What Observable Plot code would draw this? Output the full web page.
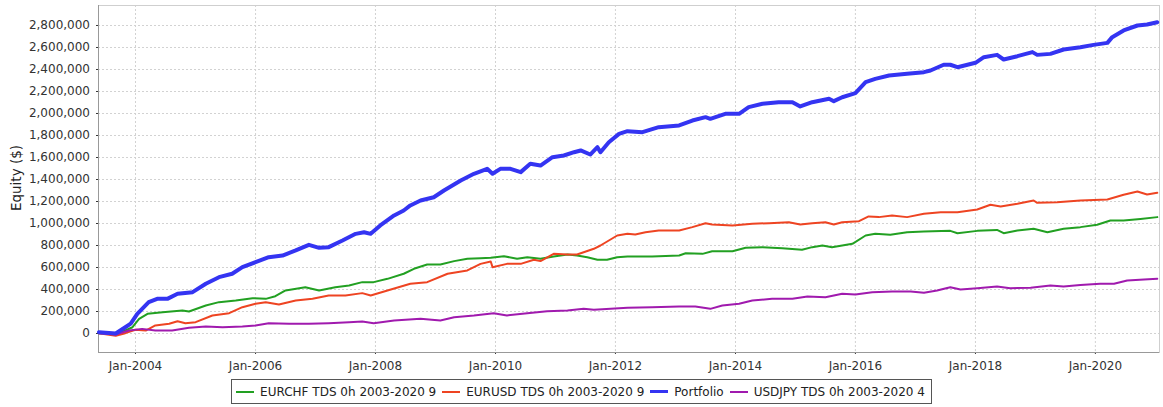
<!DOCTYPE html>
<html>
<head>
<meta charset="utf-8">
<script src="https://cdn.jsdelivr.net/npm/d3@7"></script>
<script src="https://cdn.jsdelivr.net/npm/@observablehq/plot@0.6"></script>
<style>
  html, body { margin: 0; padding: 0; background: #fff; }
  #chart { width: 1163px; }
  .legend {
    display: flex; justify-content: center; margin-top: 3px;
  }
  .legend-box {
    display: flex; align-items: center; height: 23px; padding: 0 6px 0 4px;
    border: 1px solid #555; background: #fff;
    font-family: "DejaVu Sans", sans-serif; font-size: 12px; color: #222;
  }
  .item { display: flex; align-items: center; margin-right: 6px; }
  .item:last-child { margin-right: 0; }
  .sw { width: 18px; height: 2px; margin-right: 6px; }
</style>
</head>
<body>
<div id="chart"></div>
<script>
// ---- Data (years as decimal years, values in thousands of $) ----
const seriesNames = ["EURCHF TDS 0h 2003-2020 9", "EURUSD TDS 0h 2003-2020 9", "Portfolio", "USDJPY TDS 0h 2003-2020 4"];
const seriesColors = ["#22a022", "#ee4422", "#3434f2", "#a01aae"];

const portfolioYears = [2003.39,2003.67,2003.83,2003.92,2004.03,2004.22,2004.36,2004.53,2004.70,2004.95,2005.17,2005.39,2005.61,2005.78,2006.00,2006.22,2006.45,2006.67,2006.89,2007.06,2007.22,2007.45,2007.67,2007.81,2007.92,2008.08,2008.31,2008.47,2008.58,2008.75,2008.97,2009.14,2009.42,2009.64,2009.86,2009.95,2010.08,2010.25,2010.42,2010.58,2010.75,2010.95,2011.14,2011.31,2011.42,2011.58,2011.70,2011.75,2011.89,2012.06,2012.20,2012.45,2012.72,2013.06,2013.28,2013.50,2013.58,2013.83,2014.06,2014.22,2014.45,2014.72,2014.95,2015.08,2015.28,2015.56,2015.64,2015.78,2016.00,2016.17,2016.33,2016.56,2016.86,2017.14,2017.25,2017.47,2017.58,2017.70,2018.00,2018.14,2018.36,2018.47,2018.70,2018.95,2019.03,2019.25,2019.47,2019.75,2019.97,2020.20,2020.28,2020.47,2020.70,2020.86,2021.03];
const portfolioValues = [12,0,57,90,179,285,315,315,361,376,452,512,543,603,648,694,709,755,806,779,785,845,906,921,906,982,1073,1118,1164,1209,1239,1300,1391,1452,1497,1452,1497,1497,1467,1543,1527,1603,1618,1648,1664,1627,1694,1648,1739,1815,1839,1830,1876,1891,1936,1967,1952,1997,1997,2058,2088,2103,2103,2064,2103,2134,2112,2148,2185,2285,2315,2345,2361,2376,2391,2443,2443,2421,2461,2512,2533,2491,2521,2558,2533,2542,2582,2603,2624,2642,2694,2755,2800,2809,2830];

const eurchfYears = [2003.39,2003.67,2003.83,2003.95,2004.06,2004.20,2004.45,2004.78,2004.89,2005.17,2005.39,2005.67,2005.95,2006.17,2006.33,2006.50,2006.83,2007.06,2007.33,2007.56,2007.78,2007.97,2008.20,2008.47,2008.64,2008.86,2009.08,2009.31,2009.53,2009.75,2009.92,2010.14,2010.36,2010.53,2010.75,2010.97,2011.20,2011.36,2011.53,2011.70,2011.86,2012.03,2012.20,2012.61,2013.06,2013.17,2013.45,2013.61,2013.95,2014.17,2014.45,2014.78,2015.11,2015.28,2015.45,2015.61,2015.95,2016.17,2016.33,2016.58,2016.86,2017.14,2017.58,2017.70,2018.03,2018.36,2018.47,2018.70,2018.97,2019.20,2019.47,2019.75,2020.03,2020.25,2020.47,2020.75,2021.03];
const eurchfValues = [3,3,27,57,133,179,194,209,200,255,285,300,321,315,339,391,421,391,421,436,467,467,497,543,588,627,627,658,679,685,688,703,679,694,679,700,718,709,694,670,670,694,700,700,709,730,724,748,748,779,785,776,761,785,800,785,815,891,906,897,921,927,933,912,933,942,912,936,952,921,952,967,988,1027,1027,1042,1058];

const eurusdYears = [2003.39,2003.67,2003.83,2004.00,2004.17,2004.33,2004.56,2004.70,2004.83,2005.00,2005.28,2005.56,2005.78,2006.00,2006.17,2006.39,2006.67,2006.95,2007.22,2007.50,2007.78,2007.92,2008.20,2008.58,2008.86,2009.20,2009.53,2009.75,2009.92,2009.95,2010.19,2010.42,2010.64,2010.75,2010.97,2011.20,2011.36,2011.47,2011.64,2011.75,2012.03,2012.20,2012.33,2012.50,2012.72,2013.06,2013.28,2013.50,2013.61,2013.95,2014.28,2014.56,2014.89,2015.08,2015.28,2015.50,2015.64,2015.78,2016.06,2016.22,2016.39,2016.61,2016.86,2017.14,2017.42,2017.70,2018.03,2018.25,2018.42,2018.70,2018.97,2019.03,2019.36,2019.75,2020.20,2020.47,2020.70,2020.86,2021.03];
const eurusdValues = [3,-21,3,33,27,73,88,112,94,103,164,185,239,270,285,264,300,315,345,345,367,345,391,452,467,543,573,633,655,603,633,633,670,658,724,718,718,739,770,800,891,906,900,921,936,936,967,1003,991,982,997,1003,1012,991,1003,1012,991,1012,1021,1064,1058,1073,1058,1088,1103,1103,1127,1170,1155,1179,1209,1188,1194,1209,1218,1261,1291,1264,1279];

const usdjpyYears = [2003.39,2003.67,2003.89,2004.11,2004.33,2004.61,2004.89,2005.17,2005.45,2005.78,2006.00,2006.22,2006.56,2006.89,2007.22,2007.56,2007.78,2007.97,2008.31,2008.75,2009.08,2009.31,2009.64,2009.97,2010.19,2010.53,2010.86,2011.20,2011.47,2011.64,2011.92,2012.20,2012.61,2013.06,2013.33,2013.58,2013.78,2014.06,2014.28,2014.61,2014.95,2015.20,2015.50,2015.78,2016.00,2016.28,2016.61,2016.92,2017.14,2017.36,2017.58,2017.75,2018.03,2018.36,2018.58,2018.92,2019.25,2019.47,2019.75,2020.08,2020.31,2020.53,2020.81,2021.03];
const usdjpyValues = [3,-9,27,42,27,27,52,64,57,64,73,94,88,88,94,103,109,94,118,133,118,148,164,185,164,185,203,209,224,215,224,233,239,245,245,224,255,270,300,315,315,336,330,361,355,376,382,382,370,391,421,400,412,427,412,415,436,427,442,452,452,482,491,497];

const xTickYears = [2004, 2006, 2008, 2010, 2012, 2014, 2016, 2018, 2020];
const yTicks = [0,200000,400000,600000,800000,1000000,1200000,1400000,1600000,1800000,2000000,2200000,2400000,2600000,2800000];

// ---- helpers ----
function yearToDate(v) {
  const y = Math.floor(v);
  const s = Date.UTC(y, 0, 1), e = Date.UTC(y + 1, 0, 1);
  return new Date(s + (v - y) * (e - s));
}
function build(name, years, values) {
  return years.map((yr, i) => ({series: name, date: yearToDate(yr), value: values[i] * 1000}));
}
const eurchf = build(seriesNames[0], eurchfYears, eurchfValues);
const eurusd = build(seriesNames[1], eurusdYears, eurusdValues);
const portfolio = build(seriesNames[2], portfolioYears, portfolioValues);
const usdjpy = build(seriesNames[3], usdjpyYears, usdjpyValues);

const xTicks = xTickYears.map(y => new Date(Date.UTC(y, 0, 1)));
const xDomain = [yearToDate(2003.383), yearToDate(2021.067)];
const yDomain = [-172727, 2981818];

const grid = {stroke: "#d2d2d2", strokeOpacity: 1, strokeDasharray: "2,2"};

const chart = Plot.plot({
  width: 1163,
  height: 376,
  marginLeft: 98,
  marginRight: 4,
  marginTop: 5,
  marginBottom: 24,
  style: {fontFamily: "DejaVu Sans, sans-serif", fontSize: "12px", color: "#333", background: "#fff", overflow: "visible"},
  x: {type: "utc", domain: xDomain, ticks: xTicks, tickFormat: d3.utcFormat("%b-%Y"), tickSize: 2, tickPadding: 7, label: null},
  y: {domain: yDomain, ticks: yTicks, tickFormat: d3.format(","), tickSize: 2, tickPadding: 6.5, label: null},
  color: {domain: seriesNames, range: seriesColors},
  marks: [
    Plot.gridX(xTicks, grid),
    Plot.gridY(yTicks, grid),
    Plot.frame({stroke: "#cfcfcf"}),
    Plot.ruleX([xDomain[0]], {stroke: "#999"}),
    Plot.ruleY([yDomain[0]], {stroke: "#999"}),
    Plot.line(eurchf, {x: "date", y: "value", stroke: "series", strokeWidth: 2}),
    Plot.line(eurusd, {x: "date", y: "value", stroke: "series", strokeWidth: 2}),
    Plot.line(usdjpy, {x: "date", y: "value", stroke: "series", strokeWidth: 2}),
    Plot.line(portfolio, {x: "date", y: "value", stroke: "series", strokeWidth: 4})
  ]
});

d3.select(chart).append("text")
  .attr("transform", "translate(16,178) rotate(-90)")
  .attr("text-anchor", "middle")
  .attr("dominant-baseline", "central")
  .attr("fill", "#222")
  .style("font-size", "13.5px")
  .text("Equity ($)");

const root = document.getElementById("chart");
root.appendChild(chart);

const legend = document.createElement("div");
legend.className = "legend";
const box = document.createElement("div");
box.className = "legend-box";
seriesNames.forEach((n, i) => {
  const it = document.createElement("div");
  it.className = "item";
  const sw = document.createElement("span");
  sw.className = "sw";
  sw.style.background = seriesColors[i];
  if (n === "Portfolio") sw.style.height = "3px";
  const t = document.createElement("span");
  t.textContent = n;
  it.appendChild(sw); it.appendChild(t);
  box.appendChild(it);
});
legend.appendChild(box);
root.appendChild(legend);
</script>
</body>
</html>
